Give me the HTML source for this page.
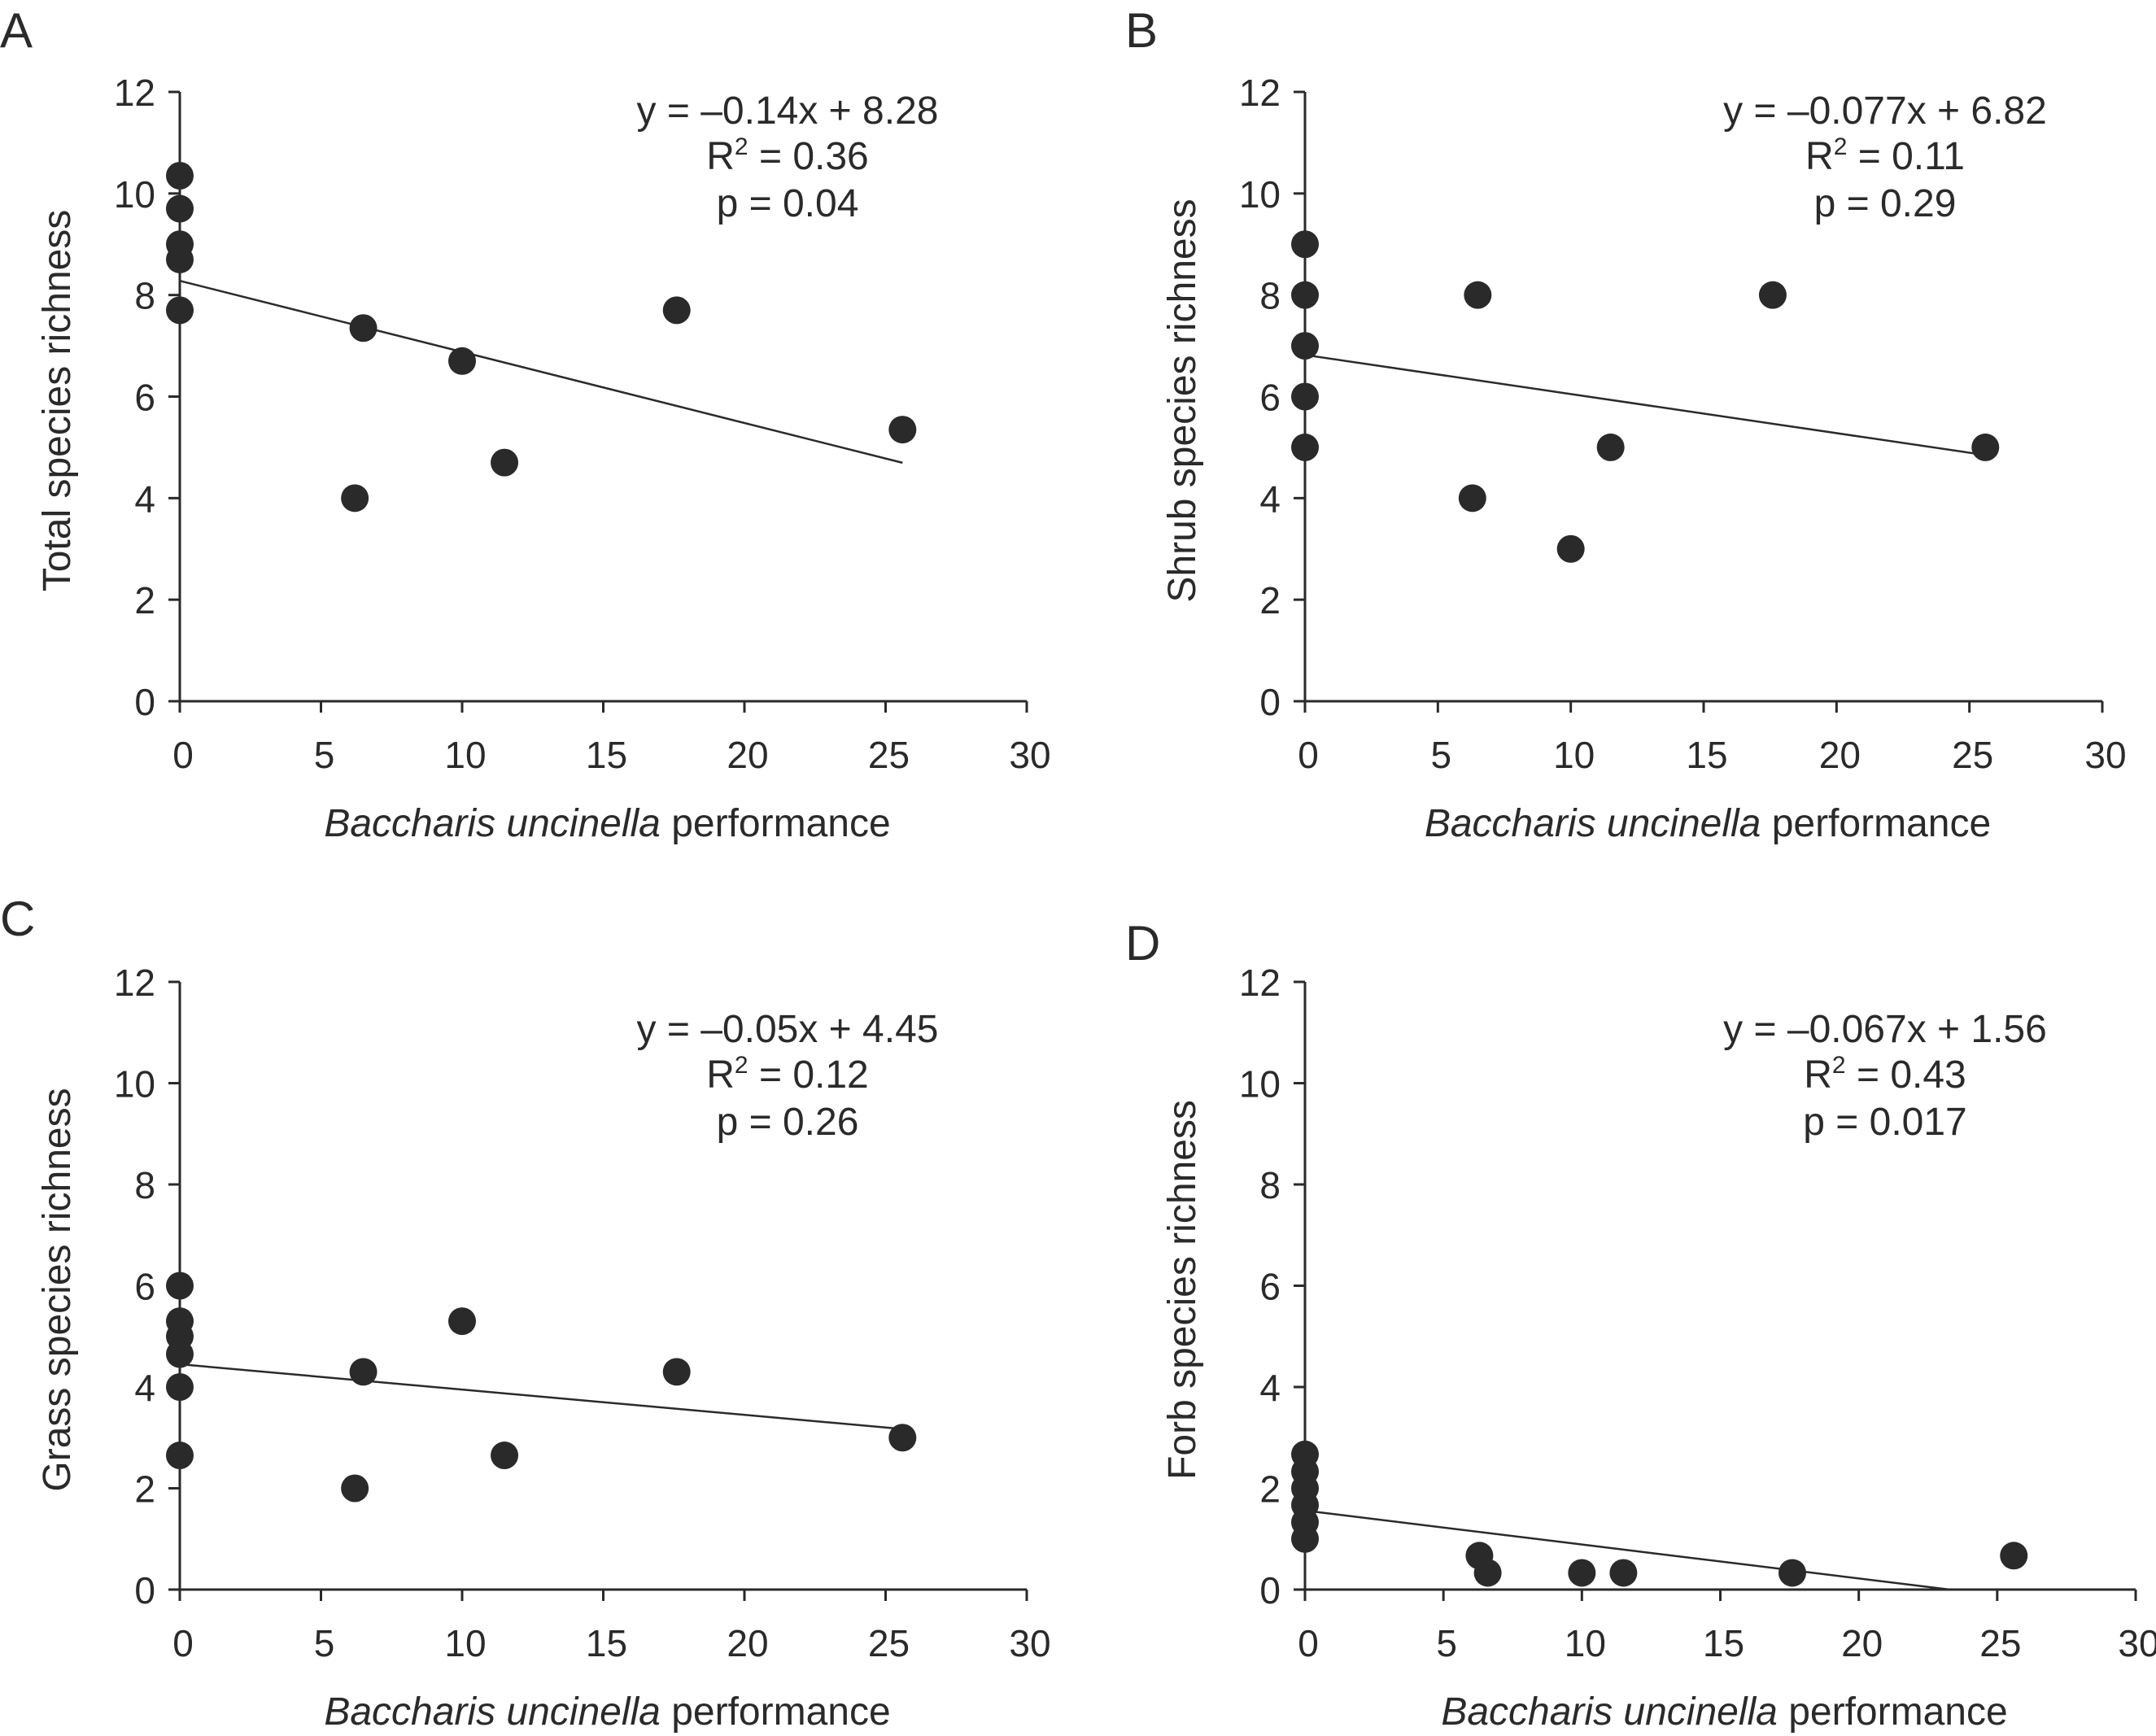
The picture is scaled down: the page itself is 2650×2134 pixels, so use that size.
<!DOCTYPE html>
<html><head><meta charset="utf-8">
<style>
html,body{margin:0;padding:0;background:#fff;}
svg{display:block;font-family:"Liberation Sans",sans-serif;fill:#2a2a2a;}
</style></head>
<body>
<svg id="fig" width="2650" height="2134" viewBox="0 0 2650 2134" xmlns="http://www.w3.org/2000/svg"></svg>
<script>
const NS='http://www.w3.org/2000/svg';
// Panel A: total species richness
const xA=[0,0,0,0,0,6.2,6.5,10,11.5,17.6,25.6];
const yA=[10.35,9.7,9.0,8.7,7.7,4.0,7.35,6.7,4.7,7.7,5.35];
// Panel B: shrub species richness
const xB=[0,0,0,0,0,6.3,6.5,10,11.5,17.6,25.6];
const yB=[9,8,7,6,5,4,8,3,5,8,5];
// Panel C: grass species richness
const xC=[0,0,0,0,0,0,6.2,6.5,10,11.5,17.6,25.6];
const yC=[6,5.3,5,4.65,4,2.65,2,4.3,5.3,2.65,4.3,3];
// Panel D: forb species richness
const xD=[0,0,0,0,0,0,6.3,6.6,10,11.5,17.6,25.6];
const yD=[2.67,2.33,2,1.67,1.33,1,0.67,0.33,0.33,0.33,0.33,0.67];
// regression slopes/intercepts
const slopes=[-0.14,-0.077,-0.05,-0.067];
const intercepts=[8.28,6.82,4.45,1.56];
const xTicks=[0,5,10,15,20,25,30];
const yTicks=[0,2,4,6,8,10,12];
const yTitles=['Total species richness','Shrub species richness','Grass species richness','Forb species richness'];
const eqLines=[['y = \u20130.14x + 8.28','0.36','p = 0.04'],['y = \u20130.077x + 6.82','0.11','p = 0.29'],['y = \u20130.05x + 4.45','0.12','p = 0.26'],['y = \u20130.067x + 1.56','0.43','p = 0.017']];
const letters=['A','B','C','D'];

const svg=document.getElementById('fig');
function el(tag,attrs,parent){const e=document.createElementNS(NS,tag);for(const k in attrs)e.setAttribute(k,attrs[k]);(parent||svg).appendChild(e);return e;}

const layouts=[
 {ax:221,y0:862,y12:113,x30:1262,lx:0,ly:58,eqx:968,eqy:135},
 {ax:1604,y0:862,y12:113,x30:2584,lx:1383,ly:58,eqx:2317,eqy:135},
 {ax:221,y0:1954,y12:1207,x30:1262,lx:0,ly:1150,eqx:968,eqy:1264},
 {ax:1604,y0:1954,y12:1207,x30:2625,lx:1383,ly:1180,eqx:2317,eqy:1264}
];
const XS=[xA,xB,xC,xD],YS=[yA,yB,yC,yD];

layouts.forEach((L,i)=>{
 const g=el('g',{});
 
 
 const sx=v=>L.ax+(L.x30-L.ax)*v/30;
 const sy=v=>L.y0-(L.y0-L.y12)*v/12;
 const st='stroke:#2a2a2a;stroke-width:3;fill:none';
 const lt=el('text',{x:L.lx,y:L.ly,'font-size':60},g);lt.textContent=letters[i];
 
 
 const ya=el('line',{x1:L.ax,y1:L.y0,x2:L.ax,y2:L.y12,style:st},g);
 
 
 const xa=el('line',{x1:L.ax-14,y1:L.y0,x2:L.x30,y2:L.y0,style:st},g);
 
 
 yTicks.forEach(t=>{
  el('line',{x1:L.ax-14,y1:sy(t),x2:L.ax,y2:sy(t),style:st},g);
  const tx=el('text',{x:L.ax-30,y:sy(t)+17,'font-size':46,'text-anchor':'end'},g);tx.textContent=t;
  
  
 });
 xTicks.forEach(t=>{
  el('line',{x1:sx(t),y1:L.y0,x2:sx(t),y2:L.y0+14,style:st},g);
  const tx=el('text',{x:sx(t)+4,y:L.y0+82,'font-size':46,'text-anchor':'middle'},g);tx.textContent=t;
  
  
 });
 const xt=el('text',{x:(L.ax+L.x30)/2+5,y:L.y0+166,'font-size':48,'text-anchor':'middle'},g);
 xt.innerHTML='<tspan font-style="italic">Baccharis uncinella</tspan> performance';
 
 
 const ycx=L.ax-135, ycy=(L.y0+L.y12)/2+5;
 const yt=el('text',{x:0,y:0,'font-size':48,'text-anchor':'middle',transform:`translate(${ycx},${ycy}) rotate(-90)`},g);
 yt.textContent=yTitles[i];
 
 
 const eq=eqLines[i];
 const e1=el('text',{x:L.eqx,y:L.eqy+17,'font-size':48,'text-anchor':'middle'},g);e1.textContent=eq[0];
 
 
 const e2=el('text',{x:L.eqx,y:L.eqy+73,'font-size':48,'text-anchor':'middle'},g);
 e2.innerHTML='R<tspan dy="-18" font-size="30">2</tspan><tspan dy="18"> = '+eq[1]+'</tspan>';
 
 
 const e3=el('text',{x:L.eqx,y:L.eqy+131,'font-size':48,'text-anchor':'middle'},g);e3.textContent=eq[2];
 
 
 // regression line
 const m=slopes[i],b=intercepts[i];
 let xe=25.6; if(m*xe+b<0) xe=-b/m;
 const rl=el('line',{x1:sx(0),y1:sy(b),x2:sx(xe),y2:sy(m*xe+b),style:'stroke:#2a2a2a;stroke-width:2.5'},g);
 
 
 XS[i].forEach((xv,j)=>{
  const c=el('circle',{cx:sx(xv),cy:sy(YS[i][j]),r:17,fill:'#2a2a2a'},g);
  
  
 });
});
</script>
</body></html>
